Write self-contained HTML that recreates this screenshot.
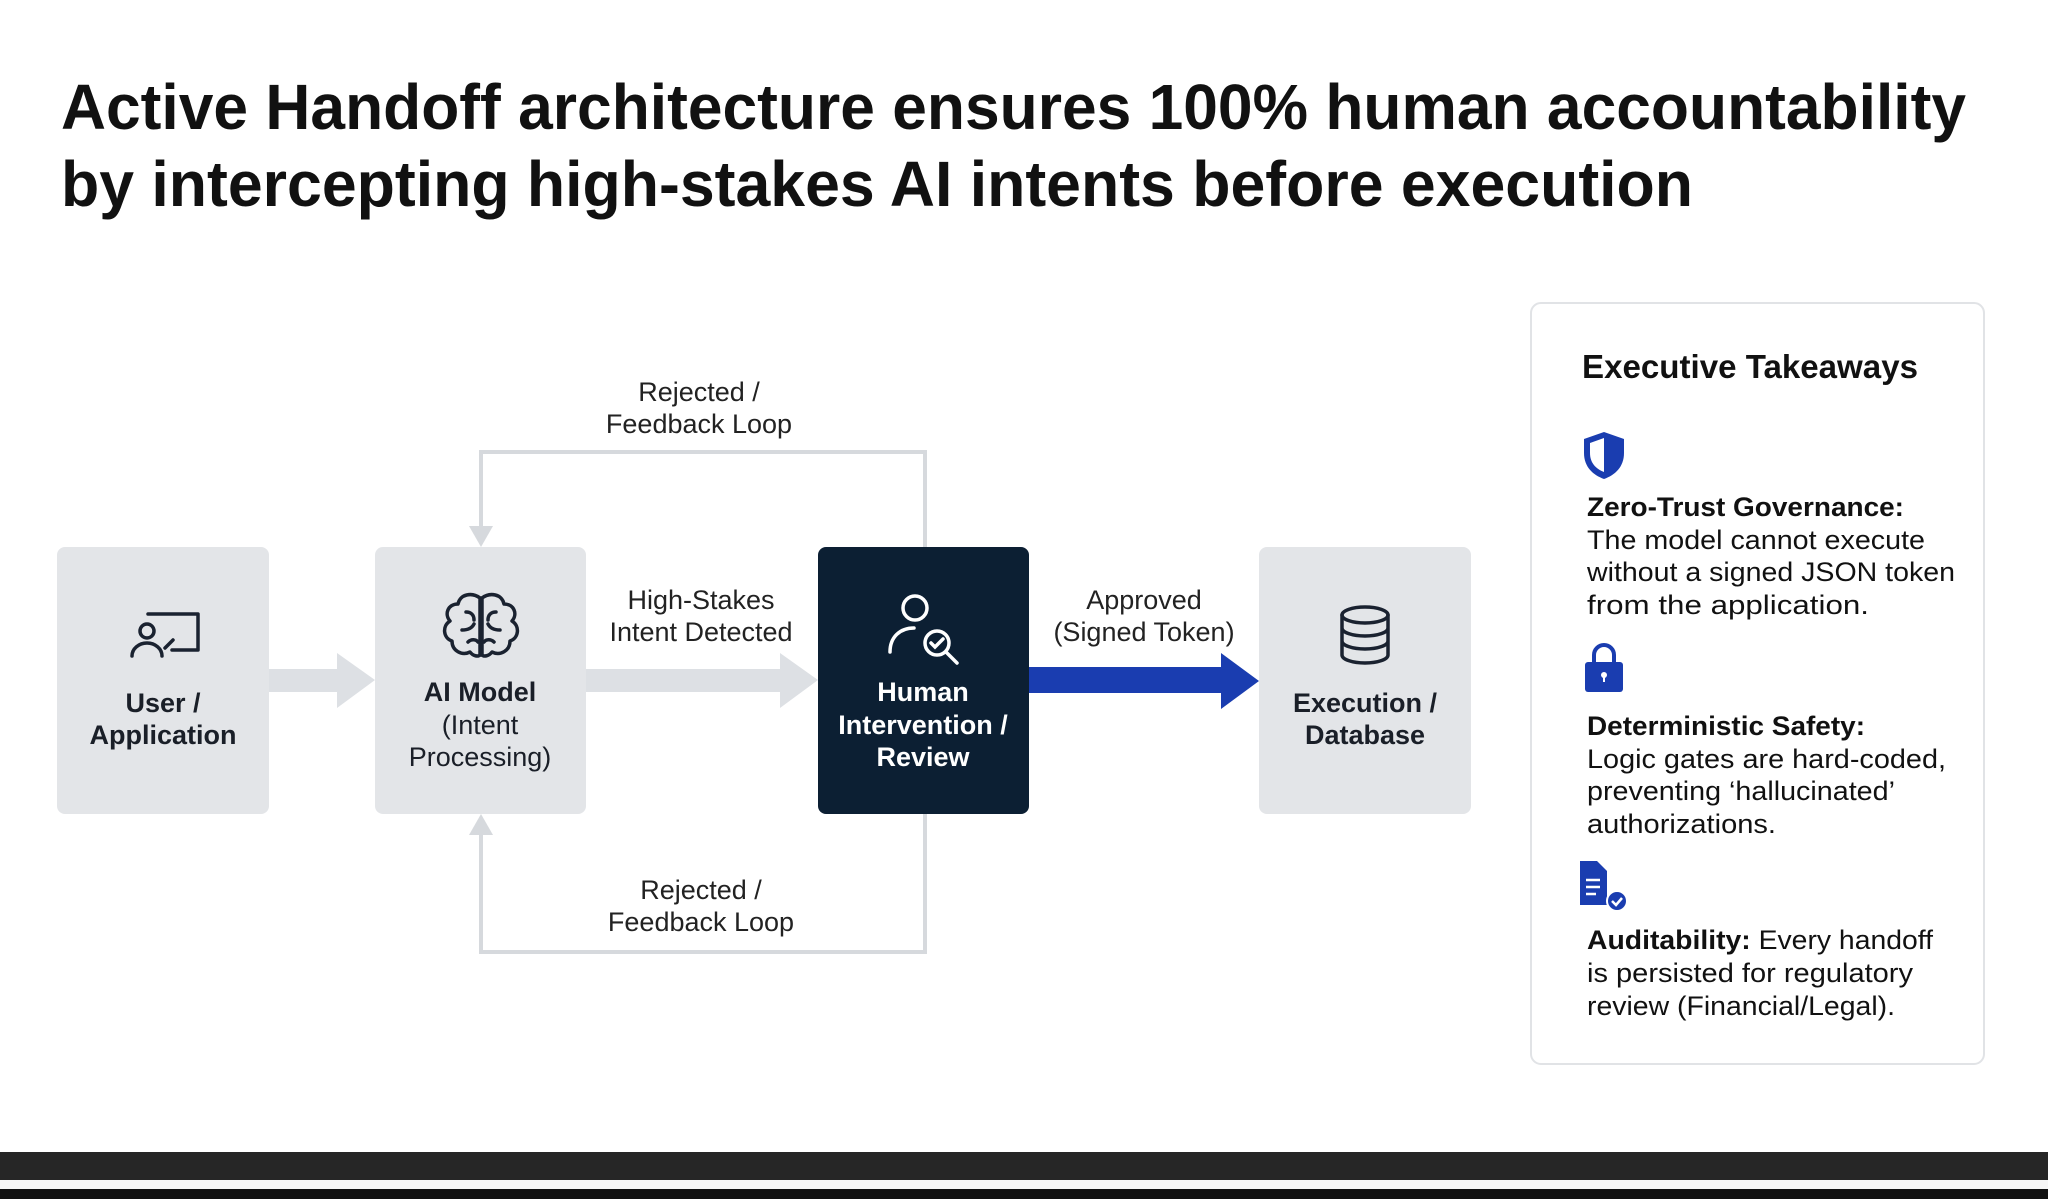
<!DOCTYPE html>
<html><head><meta charset="utf-8"><style>
html,body{margin:0;padding:0;background:#fff;width:2048px;height:1199px;overflow:hidden}
svg text{font-family:"Liberation Sans",sans-serif}
</style></head><body>
<svg width="2048" height="1199" viewBox="0 0 2048 1199" xmlns="http://www.w3.org/2000/svg">
<rect width="2048" height="1199" fill="#fff"/>
<!-- Title -->
<text x="61" y="129" font-size="64" font-weight="bold" fill="#111" textLength="1905" lengthAdjust="spacingAndGlyphs">Active Handoff architecture ensures 100% human accountability</text>
<text x="61" y="206" font-size="64" font-weight="bold" fill="#111" textLength="1632" lengthAdjust="spacingAndGlyphs">by intercepting high-stakes AI intents before execution</text>

<!-- feedback loops -->
<g fill="none" stroke="#d6d9dd" stroke-width="4">
<polyline points="925,547 925,452 481,452 481,530"/>
<polyline points="925,814 925,952 481,952 481,832"/>
</g>
<polygon points="469,526 493,526 481,547" fill="#d6d9dd"/>
<polygon points="469,835 493,835 481,814" fill="#d6d9dd"/>
<g font-size="27" fill="#222" text-anchor="middle">
<text x="699" y="401">Rejected /</text>
<text x="699" y="433">Feedback Loop</text>
<text x="701" y="899">Rejected /</text>
<text x="701" y="931">Feedback Loop</text>
<text x="701" y="609">High-Stakes</text>
<text x="701" y="641">Intent Detected</text>
<text x="1144" y="609">Approved</text>
<text x="1144" y="641">(Signed Token)</text>
</g>

<!-- arrows -->
<polygon points="269,669 337,669 337,653 375,680 337,708 337,692 269,692" fill="#dde0e4"/>
<polygon points="586,669 780,669 780,653 818,680 780,708 780,692 586,692" fill="#dde0e4"/>
<polygon points="1029,667 1221,667 1221,653 1259,681 1221,709 1221,693 1029,693" fill="#1a3db0"/>

<!-- boxes -->
<rect x="57" y="547" width="212" height="267" rx="8" fill="#e3e5e8"/>
<rect x="375" y="547" width="211" height="267" rx="8" fill="#e3e5e8"/>
<rect x="818" y="547" width="211" height="267" rx="8" fill="#0c1f33"/>
<rect x="1259" y="547" width="212" height="267" rx="8" fill="#e3e5e8"/>

<!-- icons -->
<g fill="none" stroke="#1a2230" stroke-width="3.5" stroke-linecap="round" stroke-linejoin="round">
 <!-- user/app -->
 <path d="M148 614 h50 v36 h-26"/>
 <circle cx="147" cy="631" r="7"/>
 <path d="M132 656 a15 13 0 0 1 30 0"/>
 <path d="M165 648 l8 -8"/>
 <!-- brain -->
 <path d="M480 598 c-8 -6 -20 -4 -22 6 c-10 0 -14 10 -8 17 c-8 5 -7 17 2 20 c0 10 10 15 18 11 c3 4 8 5 10 3 z"/>
 <path d="M482 598 c8 -6 20 -4 22 6 c10 0 14 10 8 17 c8 5 7 17 -2 20 c0 10 -10 15 -18 11 c-3 4 -8 5 -10 3 z"/>
 <path d="M481 598 v57 M466 612 c5 0 8 3 8 8 M462 630 c6 0 10 -2 12 -6 M468 642 c3 -3 8 -3 10 0 M496 612 c-5 0 -8 3 -8 8 M500 630 c-6 0 -10 -2 -12 -6 M494 642 c-3 -3 -8 -3 -10 0"/>
 <!-- db -->
 <ellipse cx="1365" cy="615" rx="23" ry="8"/>
 <path d="M1342 615 v40 a23 8 0 0 0 46 0 v-40 M1342 628 a23 8 0 0 0 46 0 M1342 641 a23 8 0 0 0 46 0"/>
</g>
<g fill="none" stroke="#fff" stroke-width="3.5" stroke-linecap="round">
 <circle cx="915" cy="608" r="12"/>
 <path d="M890 652 c0 -15 10 -24 24 -24"/>
 <circle cx="937" cy="643" r="12"/>
 <path d="M946 652 l11 11 M931 643 l4 4 l8 -8"/>
</g>
<g font-size="27" text-anchor="middle" font-weight="bold" fill="#1a1f28">
<text x="163" y="712">User /</text>
<text x="163" y="744">Application</text>
<text x="480" y="701">AI Model</text>
<text x="480" y="734" font-weight="normal">(Intent</text>
<text x="480" y="766" font-weight="normal">Processing)</text>
<text x="923" y="701" fill="#fff">Human</text>
<text x="923" y="734" fill="#fff">Intervention /</text>
<text x="923" y="766" fill="#fff">Review</text>
<text x="1365" y="712">Execution /</text>
<text x="1365" y="744">Database</text>
</g>

<!-- panel -->
<rect x="1531" y="303" width="453" height="761" rx="10" fill="#fff" stroke="#e1e3e6" stroke-width="2"/>
<text x="1582" y="378" font-size="33" font-weight="bold" fill="#111" textLength="336" lengthAdjust="spacingAndGlyphs">Executive Takeaways</text>
<!-- shield -->
<path d="M1604 432 l-20 7 v14 c0 14 9 22 20 26 c11 -4 20 -12 20 -26 v-14 z" fill="#1a3db0"/>
<path d="M1604 438 l-14 5 v10 c0 10 6 16 14 19 z" fill="#fff"/>
<!-- lock -->
<path d="M1594 663 v-8 a10 10 0 0 1 20 0 v8" fill="none" stroke="#1a3db0" stroke-width="4"/>
<rect x="1585" y="662" width="38" height="30" rx="3" fill="#1a3db0"/>
<circle cx="1604" cy="675" r="3" fill="#fff"/><rect x="1603" y="676" width="2" height="6" fill="#fff"/>
<!-- doc -->
<path d="M1580 861 h17 l10 10 v34 h-27 z" fill="#1a3db0"/>
<path d="M1586 880 h14 M1586 887 h14 M1586 894 h10" stroke="#fff" stroke-width="2.5"/>
<circle cx="1617" cy="901" r="10" fill="#1a3db0" stroke="#fff" stroke-width="2"/>
<path d="M1612 901 l4 4 l6 -7" fill="none" stroke="#fff" stroke-width="2.5"/>
<g font-size="27" fill="#111">
<text x="1587" y="516" font-weight="bold" textLength="317" lengthAdjust="spacingAndGlyphs">Zero-Trust Governance:</text>
<text x="1587" y="549" textLength="338" lengthAdjust="spacingAndGlyphs">The model cannot execute</text>
<text x="1587" y="581" textLength="368" lengthAdjust="spacingAndGlyphs">without a signed JSON token</text>
<text x="1587" y="614" textLength="282" lengthAdjust="spacingAndGlyphs">from the application.</text>
<text x="1587" y="735" font-weight="bold" textLength="278" lengthAdjust="spacingAndGlyphs">Deterministic Safety:</text>
<text x="1587" y="768" textLength="359" lengthAdjust="spacingAndGlyphs">Logic gates are hard-coded,</text>
<text x="1587" y="800" textLength="308" lengthAdjust="spacingAndGlyphs">preventing ‘hallucinated’</text>
<text x="1587" y="833" textLength="189" lengthAdjust="spacingAndGlyphs">authorizations.</text>
<text x="1587" y="949" textLength="346" lengthAdjust="spacingAndGlyphs"><tspan font-weight="bold">Auditability:</tspan> Every handoff</text>
<text x="1587" y="982" textLength="326" lengthAdjust="spacingAndGlyphs">is persisted for regulatory</text>
<text x="1587" y="1015" textLength="308" lengthAdjust="spacingAndGlyphs">review (Financial/Legal).</text>
</g>

<!-- bottom bars -->
<rect x="0" y="1152" width="2048" height="28" fill="#262626"/>
<rect x="0" y="1180" width="2048" height="9" fill="#f6f6f6"/>
<rect x="0" y="1189" width="2048" height="10" fill="#111"/>
</svg>
</body></html>
